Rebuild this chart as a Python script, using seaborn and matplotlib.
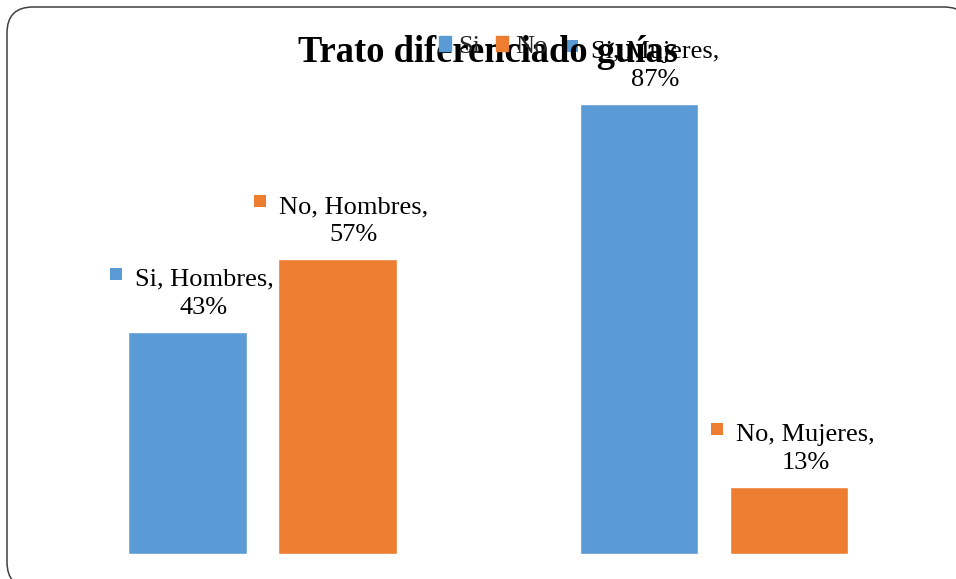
import numpy as np
import pandas as pd
import seaborn as sns
import matplotlib.pyplot as plt
from matplotlib.patches import FancyBboxPatch, Patch, Rectangle
from matplotlib.transforms import IdentityTransform

# ---- data ----
groups = ["Hombres", "Mujeres"]
answers = ["Si", "No"]
si_values = [43, 87]
no_values = [57, 13]
title = "Trato diferenciado guías"
colors = {"Si": "#5B9BD5", "No": "#ED7D31"}

df = pd.DataFrame({
    "grupo": groups * 2,
    "respuesta": ["Si"] * len(groups) + ["No"] * len(groups),
    "valor": si_values + no_values,
})

sns.set_theme(style="white")
plt.rcParams['font.family'] = ['Liberation Serif', 'DejaVu Serif']

W, H = 956, 579
fig = plt.figure(figsize=(W / 100, H / 100), dpi=100)
ax = fig.add_axes([36.75 / W, 25 / H, 903 / W, 517 / H])
ax.patch.set_alpha(0)
sns.barplot(data=df, x="grupo", y="valor", hue="respuesta", hue_order=answers,
            order=groups, palette=colors, width=0.664, gap=0.207, ax=ax,
            legend=False, saturation=1, errorbar=None)
ax.set_xlim(-0.5, 1.5)
ax.set_ylim(0, 100)
ax.axis('off')

# title
fig.text(488 / W, 517 / H, title, ha='center', va='baseline',
         fontsize=26.3, fontweight='bold', color='black')

# legend
handles = [Patch(color=colors[a], label=a) for a in answers]
fig.legend(handles=handles, loc='center', bbox_to_anchor=(493 / W, 532 / H),
           ncol=2, frameon=False, fontsize=19, handlelength=0.46,
           handleheight=0.46, handletextpad=0.27, columnspacing=0.6,
           borderpad=0, borderaxespad=0)

# data labels
texts = []
for cont, ans in zip(ax.containers, answers):
    for bar, grp in zip(cont, groups):
        h = bar.get_height()
        xc = bar.get_x() + bar.get_width() / 2
        t = ax.annotate(f"{ans}, {grp},\n{h:.0f}%", xy=(xc, h),
                        xytext=(16.5, 13), textcoords='offset pixels',
                        ha='center', va='bottom', fontsize=19,
                        multialignment='center', linespacing=1.36,
                        color='black')
        texts.append((t, colors[ans]))

fig.canvas.draw()
renderer = fig.canvas.get_renderer()
for t, c in texts:
    bb = t.get_window_extent(renderer)
    cy = bb.y1 - 5
    fig.add_artist(Rectangle((bb.x0 - 13 - 12, cy - 6), 12, 12,
                             transform=IdentityTransform(), color=c, lw=0))

# rounded border (extends past the right and bottom edges)
border = FancyBboxPatch((7, -9), 963, 581, boxstyle='round,pad=0,rounding_size=26',
                        transform=IdentityTransform(), fill=True,
                        facecolor='white', edgecolor='#404040', linewidth=1.1,
                        zorder=-5)
fig.add_artist(border)

fig.savefig('out.png', dpi=100)
